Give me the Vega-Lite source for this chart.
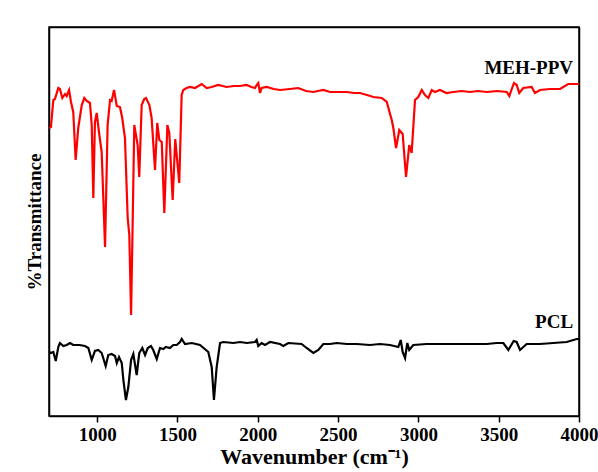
{
  "$schema": "https://vega.github.io/schema/vega-lite/v6.json",
  "width": 530,
  "height": 389,
  "autosize": {"type": "none"},
  "padding": {"left": 49, "top": 27, "right": 19, "bottom": 56},
  "background": "white",
  "view": {"stroke": "black", "strokeWidth": 1.5, "fill": "white"},
  "config": {"view": {"stroke": "black", "strokeWidth": 1.5}, "font": "Liberation Serif"},
  "resolve": {"axis": {"x": "independent", "y": "independent"}},
  "datasets": {
    "spectra": [
      {"sample": "MEH-PPV", "wavenumber": 700, "transmittance": 288},
      {"sample": "MEH-PPV", "wavenumber": 712, "transmittance": 289},
      {"sample": "MEH-PPV", "wavenumber": 727, "transmittance": 316},
      {"sample": "MEH-PPV", "wavenumber": 737, "transmittance": 317},
      {"sample": "MEH-PPV", "wavenumber": 758, "transmittance": 328},
      {"sample": "MEH-PPV", "wavenumber": 768, "transmittance": 327},
      {"sample": "MEH-PPV", "wavenumber": 783, "transmittance": 318},
      {"sample": "MEH-PPV", "wavenumber": 800, "transmittance": 322},
      {"sample": "MEH-PPV", "wavenumber": 810, "transmittance": 320},
      {"sample": "MEH-PPV", "wavenumber": 825, "transmittance": 326},
      {"sample": "MEH-PPV", "wavenumber": 837, "transmittance": 314},
      {"sample": "MEH-PPV", "wavenumber": 851, "transmittance": 304},
      {"sample": "MEH-PPV", "wavenumber": 866, "transmittance": 256},
      {"sample": "MEH-PPV", "wavenumber": 882, "transmittance": 288},
      {"sample": "MEH-PPV", "wavenumber": 904, "transmittance": 311},
      {"sample": "MEH-PPV", "wavenumber": 920, "transmittance": 318},
      {"sample": "MEH-PPV", "wavenumber": 935, "transmittance": 315},
      {"sample": "MEH-PPV", "wavenumber": 955, "transmittance": 313},
      {"sample": "MEH-PPV", "wavenumber": 966, "transmittance": 291},
      {"sample": "MEH-PPV", "wavenumber": 976, "transmittance": 218},
      {"sample": "MEH-PPV", "wavenumber": 986, "transmittance": 294},
      {"sample": "MEH-PPV", "wavenumber": 997, "transmittance": 303},
      {"sample": "MEH-PPV", "wavenumber": 1011, "transmittance": 284},
      {"sample": "MEH-PPV", "wavenumber": 1028, "transmittance": 264},
      {"sample": "MEH-PPV", "wavenumber": 1049, "transmittance": 169},
      {"sample": "MEH-PPV", "wavenumber": 1065, "transmittance": 291},
      {"sample": "MEH-PPV", "wavenumber": 1080, "transmittance": 316},
      {"sample": "MEH-PPV", "wavenumber": 1090, "transmittance": 315},
      {"sample": "MEH-PPV", "wavenumber": 1105, "transmittance": 326},
      {"sample": "MEH-PPV", "wavenumber": 1122, "transmittance": 310},
      {"sample": "MEH-PPV", "wavenumber": 1142, "transmittance": 309},
      {"sample": "MEH-PPV", "wavenumber": 1156, "transmittance": 298},
      {"sample": "MEH-PPV", "wavenumber": 1173, "transmittance": 278},
      {"sample": "MEH-PPV", "wavenumber": 1190, "transmittance": 198},
      {"sample": "MEH-PPV", "wavenumber": 1200, "transmittance": 181},
      {"sample": "MEH-PPV", "wavenumber": 1211, "transmittance": 101},
      {"sample": "MEH-PPV", "wavenumber": 1221, "transmittance": 194},
      {"sample": "MEH-PPV", "wavenumber": 1231, "transmittance": 291},
      {"sample": "MEH-PPV", "wavenumber": 1252, "transmittance": 271},
      {"sample": "MEH-PPV", "wavenumber": 1262, "transmittance": 239},
      {"sample": "MEH-PPV", "wavenumber": 1277, "transmittance": 311},
      {"sample": "MEH-PPV", "wavenumber": 1293, "transmittance": 317},
      {"sample": "MEH-PPV", "wavenumber": 1304, "transmittance": 318},
      {"sample": "MEH-PPV", "wavenumber": 1325, "transmittance": 311},
      {"sample": "MEH-PPV", "wavenumber": 1339, "transmittance": 298},
      {"sample": "MEH-PPV", "wavenumber": 1360, "transmittance": 246},
      {"sample": "MEH-PPV", "wavenumber": 1374, "transmittance": 293},
      {"sample": "MEH-PPV", "wavenumber": 1387, "transmittance": 276},
      {"sample": "MEH-PPV", "wavenumber": 1402, "transmittance": 274},
      {"sample": "MEH-PPV", "wavenumber": 1418, "transmittance": 203},
      {"sample": "MEH-PPV", "wavenumber": 1437, "transmittance": 291},
      {"sample": "MEH-PPV", "wavenumber": 1449, "transmittance": 283},
      {"sample": "MEH-PPV", "wavenumber": 1470, "transmittance": 216},
      {"sample": "MEH-PPV", "wavenumber": 1486, "transmittance": 277},
      {"sample": "MEH-PPV", "wavenumber": 1511, "transmittance": 233},
      {"sample": "MEH-PPV", "wavenumber": 1526, "transmittance": 321},
      {"sample": "MEH-PPV", "wavenumber": 1536, "transmittance": 326},
      {"sample": "MEH-PPV", "wavenumber": 1557, "transmittance": 328},
      {"sample": "MEH-PPV", "wavenumber": 1578, "transmittance": 329},
      {"sample": "MEH-PPV", "wavenumber": 1609, "transmittance": 328},
      {"sample": "MEH-PPV", "wavenumber": 1651, "transmittance": 332},
      {"sample": "MEH-PPV", "wavenumber": 1682, "transmittance": 328},
      {"sample": "MEH-PPV", "wavenumber": 1713, "transmittance": 329},
      {"sample": "MEH-PPV", "wavenumber": 1754, "transmittance": 331},
      {"sample": "MEH-PPV", "wavenumber": 1806, "transmittance": 329},
      {"sample": "MEH-PPV", "wavenumber": 1850, "transmittance": 330},
      {"sample": "MEH-PPV", "wavenumber": 1889, "transmittance": 330},
      {"sample": "MEH-PPV", "wavenumber": 1931, "transmittance": 331},
      {"sample": "MEH-PPV", "wavenumber": 1960, "transmittance": 329},
      {"sample": "MEH-PPV", "wavenumber": 1983, "transmittance": 328},
      {"sample": "MEH-PPV", "wavenumber": 1993, "transmittance": 331},
      {"sample": "MEH-PPV", "wavenumber": 2003, "transmittance": 333},
      {"sample": "MEH-PPV", "wavenumber": 2014, "transmittance": 323},
      {"sample": "MEH-PPV", "wavenumber": 2024, "transmittance": 328},
      {"sample": "MEH-PPV", "wavenumber": 2055, "transmittance": 329},
      {"sample": "MEH-PPV", "wavenumber": 2100, "transmittance": 327},
      {"sample": "MEH-PPV", "wavenumber": 2138, "transmittance": 326},
      {"sample": "MEH-PPV", "wavenumber": 2200, "transmittance": 327},
      {"sample": "MEH-PPV", "wavenumber": 2252, "transmittance": 328},
      {"sample": "MEH-PPV", "wavenumber": 2300, "transmittance": 325},
      {"sample": "MEH-PPV", "wavenumber": 2346, "transmittance": 324},
      {"sample": "MEH-PPV", "wavenumber": 2408, "transmittance": 326},
      {"sample": "MEH-PPV", "wavenumber": 2450, "transmittance": 324},
      {"sample": "MEH-PPV", "wavenumber": 2491, "transmittance": 324},
      {"sample": "MEH-PPV", "wavenumber": 2554, "transmittance": 324},
      {"sample": "MEH-PPV", "wavenumber": 2600, "transmittance": 323},
      {"sample": "MEH-PPV", "wavenumber": 2636, "transmittance": 323},
      {"sample": "MEH-PPV", "wavenumber": 2680, "transmittance": 321},
      {"sample": "MEH-PPV", "wavenumber": 2719, "transmittance": 319},
      {"sample": "MEH-PPV", "wavenumber": 2772, "transmittance": 318},
      {"sample": "MEH-PPV", "wavenumber": 2803, "transmittance": 314},
      {"sample": "MEH-PPV", "wavenumber": 2834, "transmittance": 296},
      {"sample": "MEH-PPV", "wavenumber": 2844, "transmittance": 288},
      {"sample": "MEH-PPV", "wavenumber": 2861, "transmittance": 268},
      {"sample": "MEH-PPV", "wavenumber": 2881, "transmittance": 286},
      {"sample": "MEH-PPV", "wavenumber": 2902, "transmittance": 282},
      {"sample": "MEH-PPV", "wavenumber": 2923, "transmittance": 239},
      {"sample": "MEH-PPV", "wavenumber": 2943, "transmittance": 271},
      {"sample": "MEH-PPV", "wavenumber": 2958, "transmittance": 263},
      {"sample": "MEH-PPV", "wavenumber": 2979, "transmittance": 316},
      {"sample": "MEH-PPV", "wavenumber": 2999, "transmittance": 319},
      {"sample": "MEH-PPV", "wavenumber": 3021, "transmittance": 326},
      {"sample": "MEH-PPV", "wavenumber": 3041, "transmittance": 321},
      {"sample": "MEH-PPV", "wavenumber": 3062, "transmittance": 318},
      {"sample": "MEH-PPV", "wavenumber": 3083, "transmittance": 326},
      {"sample": "MEH-PPV", "wavenumber": 3103, "transmittance": 324},
      {"sample": "MEH-PPV", "wavenumber": 3134, "transmittance": 326},
      {"sample": "MEH-PPV", "wavenumber": 3175, "transmittance": 323},
      {"sample": "MEH-PPV", "wavenumber": 3217, "transmittance": 324},
      {"sample": "MEH-PPV", "wavenumber": 3270, "transmittance": 325},
      {"sample": "MEH-PPV", "wavenumber": 3321, "transmittance": 324},
      {"sample": "MEH-PPV", "wavenumber": 3370, "transmittance": 325},
      {"sample": "MEH-PPV", "wavenumber": 3425, "transmittance": 324},
      {"sample": "MEH-PPV", "wavenumber": 3490, "transmittance": 325},
      {"sample": "MEH-PPV", "wavenumber": 3550, "transmittance": 324},
      {"sample": "MEH-PPV", "wavenumber": 3566, "transmittance": 320},
      {"sample": "MEH-PPV", "wavenumber": 3595, "transmittance": 333},
      {"sample": "MEH-PPV", "wavenumber": 3612, "transmittance": 331},
      {"sample": "MEH-PPV", "wavenumber": 3628, "transmittance": 323},
      {"sample": "MEH-PPV", "wavenumber": 3653, "transmittance": 328},
      {"sample": "MEH-PPV", "wavenumber": 3705, "transmittance": 329},
      {"sample": "MEH-PPV", "wavenumber": 3726, "transmittance": 323},
      {"sample": "MEH-PPV", "wavenumber": 3757, "transmittance": 326},
      {"sample": "MEH-PPV", "wavenumber": 3819, "transmittance": 327},
      {"sample": "MEH-PPV", "wavenumber": 3882, "transmittance": 327},
      {"sample": "MEH-PPV", "wavenumber": 3933, "transmittance": 332},
      {"sample": "MEH-PPV", "wavenumber": 3996, "transmittance": 332},
      {"sample": "MEH-PPV", "wavenumber": 4000, "transmittance": 332},
      {"sample": "PCL", "wavenumber": 700, "transmittance": 64},
      {"sample": "PCL", "wavenumber": 712, "transmittance": 63},
      {"sample": "PCL", "wavenumber": 727, "transmittance": 64},
      {"sample": "PCL", "wavenumber": 742, "transmittance": 55},
      {"sample": "PCL", "wavenumber": 758, "transmittance": 69},
      {"sample": "PCL", "wavenumber": 768, "transmittance": 73},
      {"sample": "PCL", "wavenumber": 789, "transmittance": 70},
      {"sample": "PCL", "wavenumber": 810, "transmittance": 71},
      {"sample": "PCL", "wavenumber": 831, "transmittance": 73},
      {"sample": "PCL", "wavenumber": 851, "transmittance": 71},
      {"sample": "PCL", "wavenumber": 890, "transmittance": 71},
      {"sample": "PCL", "wavenumber": 924, "transmittance": 70},
      {"sample": "PCL", "wavenumber": 945, "transmittance": 68},
      {"sample": "PCL", "wavenumber": 966, "transmittance": 56},
      {"sample": "PCL", "wavenumber": 986, "transmittance": 65},
      {"sample": "PCL", "wavenumber": 1007, "transmittance": 66},
      {"sample": "PCL", "wavenumber": 1028, "transmittance": 63},
      {"sample": "PCL", "wavenumber": 1053, "transmittance": 50},
      {"sample": "PCL", "wavenumber": 1069, "transmittance": 61},
      {"sample": "PCL", "wavenumber": 1090, "transmittance": 62},
      {"sample": "PCL", "wavenumber": 1111, "transmittance": 60},
      {"sample": "PCL", "wavenumber": 1122, "transmittance": 53},
      {"sample": "PCL", "wavenumber": 1136, "transmittance": 59},
      {"sample": "PCL", "wavenumber": 1153, "transmittance": 53},
      {"sample": "PCL", "wavenumber": 1163, "transmittance": 36},
      {"sample": "PCL", "wavenumber": 1179, "transmittance": 16},
      {"sample": "PCL", "wavenumber": 1194, "transmittance": 29},
      {"sample": "PCL", "wavenumber": 1211, "transmittance": 56},
      {"sample": "PCL", "wavenumber": 1225, "transmittance": 62},
      {"sample": "PCL", "wavenumber": 1246, "transmittance": 41},
      {"sample": "PCL", "wavenumber": 1262, "transmittance": 63},
      {"sample": "PCL", "wavenumber": 1281, "transmittance": 68},
      {"sample": "PCL", "wavenumber": 1298, "transmittance": 61},
      {"sample": "PCL", "wavenumber": 1315, "transmittance": 68},
      {"sample": "PCL", "wavenumber": 1335, "transmittance": 70},
      {"sample": "PCL", "wavenumber": 1349, "transmittance": 66},
      {"sample": "PCL", "wavenumber": 1371, "transmittance": 57},
      {"sample": "PCL", "wavenumber": 1391, "transmittance": 68},
      {"sample": "PCL", "wavenumber": 1412, "transmittance": 67},
      {"sample": "PCL", "wavenumber": 1427, "transmittance": 69},
      {"sample": "PCL", "wavenumber": 1453, "transmittance": 68},
      {"sample": "PCL", "wavenumber": 1474, "transmittance": 71},
      {"sample": "PCL", "wavenumber": 1495, "transmittance": 71},
      {"sample": "PCL", "wavenumber": 1516, "transmittance": 74},
      {"sample": "PCL", "wavenumber": 1526, "transmittance": 77},
      {"sample": "PCL", "wavenumber": 1547, "transmittance": 72},
      {"sample": "PCL", "wavenumber": 1589, "transmittance": 73},
      {"sample": "PCL", "wavenumber": 1640, "transmittance": 71},
      {"sample": "PCL", "wavenumber": 1692, "transmittance": 64},
      {"sample": "PCL", "wavenumber": 1713, "transmittance": 49},
      {"sample": "PCL", "wavenumber": 1727, "transmittance": 16},
      {"sample": "PCL", "wavenumber": 1744, "transmittance": 49},
      {"sample": "PCL", "wavenumber": 1765, "transmittance": 73},
      {"sample": "PCL", "wavenumber": 1785, "transmittance": 74},
      {"sample": "PCL", "wavenumber": 1848, "transmittance": 73},
      {"sample": "PCL", "wavenumber": 1890, "transmittance": 74},
      {"sample": "PCL", "wavenumber": 1931, "transmittance": 73},
      {"sample": "PCL", "wavenumber": 1983, "transmittance": 74},
      {"sample": "PCL", "wavenumber": 1993, "transmittance": 76},
      {"sample": "PCL", "wavenumber": 2003, "transmittance": 70},
      {"sample": "PCL", "wavenumber": 2024, "transmittance": 73},
      {"sample": "PCL", "wavenumber": 2045, "transmittance": 71},
      {"sample": "PCL", "wavenumber": 2076, "transmittance": 74},
      {"sample": "PCL", "wavenumber": 2138, "transmittance": 72},
      {"sample": "PCL", "wavenumber": 2159, "transmittance": 70},
      {"sample": "PCL", "wavenumber": 2190, "transmittance": 73},
      {"sample": "PCL", "wavenumber": 2273, "transmittance": 72},
      {"sample": "PCL", "wavenumber": 2304, "transmittance": 68},
      {"sample": "PCL", "wavenumber": 2346, "transmittance": 63},
      {"sample": "PCL", "wavenumber": 2377, "transmittance": 66},
      {"sample": "PCL", "wavenumber": 2408, "transmittance": 72},
      {"sample": "PCL", "wavenumber": 2450, "transmittance": 72},
      {"sample": "PCL", "wavenumber": 2491, "transmittance": 73},
      {"sample": "PCL", "wavenumber": 2554, "transmittance": 72},
      {"sample": "PCL", "wavenumber": 2616, "transmittance": 72},
      {"sample": "PCL", "wavenumber": 2699, "transmittance": 71},
      {"sample": "PCL", "wavenumber": 2761, "transmittance": 72},
      {"sample": "PCL", "wavenumber": 2823, "transmittance": 71},
      {"sample": "PCL", "wavenumber": 2875, "transmittance": 69},
      {"sample": "PCL", "wavenumber": 2890, "transmittance": 76},
      {"sample": "PCL", "wavenumber": 2902, "transmittance": 64},
      {"sample": "PCL", "wavenumber": 2917, "transmittance": 58},
      {"sample": "PCL", "wavenumber": 2931, "transmittance": 73},
      {"sample": "PCL", "wavenumber": 2943, "transmittance": 66},
      {"sample": "PCL", "wavenumber": 2968, "transmittance": 71},
      {"sample": "PCL", "wavenumber": 3052, "transmittance": 72},
      {"sample": "PCL", "wavenumber": 3176, "transmittance": 72},
      {"sample": "PCL", "wavenumber": 3301, "transmittance": 72},
      {"sample": "PCL", "wavenumber": 3425, "transmittance": 72},
      {"sample": "PCL", "wavenumber": 3487, "transmittance": 73},
      {"sample": "PCL", "wavenumber": 3529, "transmittance": 73},
      {"sample": "PCL", "wavenumber": 3560, "transmittance": 66},
      {"sample": "PCL", "wavenumber": 3593, "transmittance": 75},
      {"sample": "PCL", "wavenumber": 3612, "transmittance": 74},
      {"sample": "PCL", "wavenumber": 3633, "transmittance": 66},
      {"sample": "PCL", "wavenumber": 3674, "transmittance": 72},
      {"sample": "PCL", "wavenumber": 3757, "transmittance": 72},
      {"sample": "PCL", "wavenumber": 3840, "transmittance": 73},
      {"sample": "PCL", "wavenumber": 3923, "transmittance": 74},
      {"sample": "PCL", "wavenumber": 3986, "transmittance": 77},
      {"sample": "PCL", "wavenumber": 4000, "transmittance": 77}
    ],
    "labels": [
      {"label": "MEH-PPV", "wavenumber": 3963, "transmittance": 348},
      {"label": "PCL", "wavenumber": 3963, "transmittance": 94}
    ]
  },
  "layer": [
    {
      "data": {"name": "spectra"},
      "mark": {"type": "line", "strokeWidth": 2.2, "clip": true},
      "encoding": {
        "x": {
          "field": "wavenumber", "type": "quantitative",
          "scale": {"domain": [700, 4000], "nice": false, "zero": false},
          "axis": {
            "values": [1000, 1500, 2000, 2500, 3000, 3500, 4000],
            "format": "d", "grid": false,
            "labelFont": "Liberation Serif", "labelFontSize": 19, "labelFontWeight": "bold", "labelColor": "black",
            "labelFlush": false, "labelPadding": 3,
            "tickColor": "black", "tickSize": 6, "tickWidth": 1.5,
            "domainColor": "black", "domainWidth": 1.5,
            "title": "Wavenumber (cm\u207B\u00B9)",
            "titleFont": "Liberation Serif", "titleFontSize": 22, "titleFontWeight": "bold", "titleColor": "black",
            "titlePadding": 2
          }
        },
        "y": {
          "field": "transmittance", "type": "quantitative",
          "scale": {"domain": [0, 389], "nice": false},
          "axis": {
            "ticks": false, "labels": false, "grid": false,
            "domainColor": "black", "domainWidth": 1.5,
            "title": "%Transmittance",
            "titleFont": "Liberation Serif", "titleFontSize": 19, "titleFontWeight": "bold", "titleColor": "black",
            "titlePadding": 5
          }
        },
        "color": {
          "field": "sample", "type": "nominal",
          "scale": {"domain": ["MEH-PPV", "PCL"], "range": ["#ff0000", "#000000"]},
          "legend": null
        }
      }
    },
    {
      "data": {"name": "labels"},
      "mark": {"type": "text", "align": "right", "baseline": "middle", "font": "Liberation Serif", "fontSize": 19, "fontWeight": "bold", "color": "black"},
      "encoding": {
        "x": {
          "field": "wavenumber", "type": "quantitative",
          "axis": {"orient": "top", "ticks": false, "labels": false, "grid": false, "title": null, "domainColor": "black", "domainWidth": 1.5}
        },
        "y": {
          "field": "transmittance", "type": "quantitative",
          "axis": {"orient": "right", "ticks": false, "labels": false, "grid": false, "title": null, "domainColor": "black", "domainWidth": 1.5}
        },
        "text": {"field": "label", "type": "nominal"}
      }
    }
  ]
}
